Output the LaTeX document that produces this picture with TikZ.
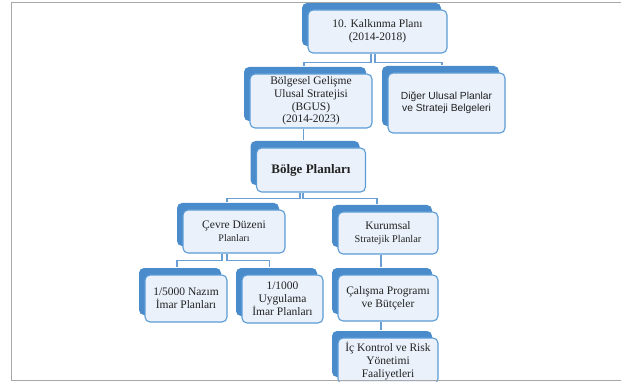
\documentclass[tikz,border=0pt]{standalone}
\usepackage{fontspec}
\setmainfont{Liberation Serif}
\newfontfamily\arialf{Liberation Sans}
\usetikzlibrary{shadows}
\definecolor{shc}{HTML}{4A8BCB}
\definecolor{bdc}{HTML}{5B9BD5}
\definecolor{fic}{HTML}{EAF1FA}
\definecolor{lnc}{HTML}{6A9FD4}
\definecolor{txc}{HTML}{222222}
\definecolor{frc}{HTML}{A8A8A8}
\begin{document}
\begin{tikzpicture}[x=1pt,y=-1pt,
  box/.style={draw=bdc, line width=1.1pt, fill=fic, rounded corners=5pt,
    inner sep=0pt, align=center, text=txc,
    font=\fontsize{11.5}{12.8}\selectfont,
    general shadow={fill=shc, shadow xshift=-6pt, shadow yshift=7pt, opacity=1}},
  conn/.style={draw=lnc, line width=1.2pt}]
\useasboundingbox (0,0) rectangle (621,382);
\clip (0,0) rectangle (621,382);

\node[box, minimum width=139pt, minimum height=43pt] (top) at (377.5,31.5) {10. Kalkınma Planı\\(2014-2018)};
\node[box, minimum width=122pt, minimum height=54pt] (bgus) at (311,101) {Bölgesel Gelişme\\Ulusal Stratejisi\\(BGUS)\\(2014-2023)};
\node[box, minimum width=117pt, minimum height=60pt, font=\arialf\fontsize{10.3}{11.8}\selectfont] (diger) at (446.5,103) {Diğer Ulusal Planlar\\ve Strateji Belgeleri};
\node[box, minimum width=109pt, minimum height=44pt, font=\bfseries\fontsize{13}{14}\selectfont] (bolge) at (311,170) {Bölge Planları};
\node[box, minimum width=102pt, minimum height=43pt] (cevre) at (234,231.5) {Çevre Düzeni\\{\fontsize{10}{11.5}\selectfont Planları}};
\node[box, minimum width=100pt, minimum height=42pt] (kurumsal) at (388,233) {Kurumsal\\{\fontsize{10.3}{11.5}\selectfont Stratejik Planlar}};
\node[box, minimum width=82pt, minimum height=47pt] (nazim) at (186,298.5) {1/5000 Nazım\\İmar Planları};
\node[box, minimum width=81pt, minimum height=48pt] (uyg) at (282.5,299) {1/1000\\Uygulama\\İmar Planları};
\node[box, minimum width=100pt, minimum height=46pt] (calisma) at (388,298) {Çalışma Programı\\ve Bütçeler};
\node[box, minimum width=100pt, minimum height=46pt] (ic) at (388,361) {İç Kontrol ve Risk\\Yönetimi\\Faaliyetleri};

\draw[conn] ([xshift=-6.5pt]top.south) -- ++(0,9) -| ([xshift=-7pt,yshift=7pt]bgus.north);
\draw[conn] ([xshift=-2.5pt]top.south) -- ++(0,9) -| ([xshift=-4.5pt,yshift=7pt]diger.north);
\draw[conn] ([xshift=-7.5pt]bgus.south) -- ([xshift=-7.5pt,yshift=7pt]bolge.north);
\draw[conn] ([xshift=-11pt]bolge.south) -- ++(0,6) -| ([xshift=-7pt,yshift=7pt]cevre.north);
\draw[conn] ([xshift=-8pt]bolge.south) -- ++(0,6) -| ([xshift=-11pt,yshift=7pt]kurumsal.north);
\draw[conn] ([xshift=-12pt]cevre.south) -- ++(0,7) -| ([xshift=-9pt,yshift=7pt]nazim.north);
\draw[conn] ([xshift=-7pt]cevre.south) -- ++(0,7) -| ([xshift=-13pt,yshift=7pt]uyg.north);
\draw[conn] ([xshift=-7pt]kurumsal.south) -- ([xshift=-7pt,yshift=7pt]calisma.north);
\draw[conn] ([xshift=-7pt]calisma.south) -- ([xshift=-7pt,yshift=7pt]ic.north);

\draw[frc, line width=1pt] (621,3) -- (11,3) -- (11,380) -- (621,380);
\end{tikzpicture}
\end{document}
